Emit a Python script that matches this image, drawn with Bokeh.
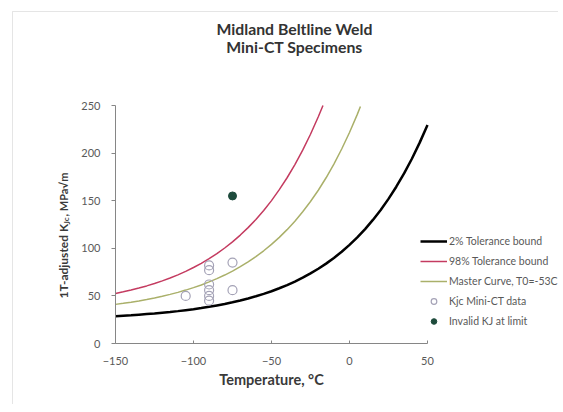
from bokeh.plotting import figure
from bokeh.models import Range1d, Label, Legend, LegendItem, FixedTicker, BoxAnnotation
from bokeh.embed import file_html
from bokeh.resources import INLINE

# ---- data ----
temps = [-150, -145, -140, -135, -130, -125, -120, -115, -110, -105, -100, -95, -90, -85,
         -80, -75, -70, -65, -60, -55, -50, -45, -40, -35, -30, -25, -20, -15, -10, -5,
         0, 5, 10, 15, 20, 25, 30, 35, 40, 45, 50]
bound_2pct = [28.7, 29.2, 29.7, 30.3, 30.9, 31.5, 32.3, 33.1, 34.0, 35.0, 36.0, 37.2, 38.5, 40.0,
              41.5, 43.3, 45.2, 47.3, 49.6, 52.1, 54.9, 58.0, 61.3, 65.0, 69.1, 73.6, 78.5, 83.9,
              89.9, 96.4, 103.6, 111.5, 120.2, 129.8, 140.3, 151.9, 164.7, 178.7, 194.1, 211.0, 229.6]

temps_98 = [-150, -145, -140, -135, -130, -125, -120, -115, -110, -105, -100, -95, -90, -85,
            -80, -75, -70, -65, -60, -55, -50, -45, -40, -35, -30, -25, -20, -17]
bound_98pct = [52.6, 54.3, 56.2, 58.3, 60.5, 63.0, 65.8, 68.8, 72.1, 75.8, 79.8, 84.2, 89.1, 94.4,
               100.3, 106.8, 113.9, 121.7, 130.3, 139.7, 150.1, 161.6, 174.1, 187.9, 203.1, 219.8,
               238.2, 250.0]

temps_mc = [-150, -145, -140, -135, -130, -125, -120, -115, -110, -105, -100, -95, -90, -85,
            -80, -75, -70, -65, -60, -55, -50, -45, -40, -35, -30, -25, -20, -15, -10, -5,
            0, 5, 7]
master_curve = [41.1, 42.2, 43.4, 44.7, 46.2, 47.8, 49.6, 51.6, 53.7, 56.1, 58.7, 61.5, 64.7, 68.1,
                71.9, 76.1, 80.7, 85.7, 91.3, 97.4, 104.1, 111.5, 119.6, 128.5, 138.4, 149.2,
                161.0, 174.1, 188.5, 204.3, 221.6, 240.7, 249.0]

kjc_temp = [-105, -90, -90, -90, -90, -90, -90, -75, -75]
kjc_value = [50, 82, 77, 62, 56, 50, 45, 85, 56]

invalid_temp = [-75]
invalid_value = [155]

x_ticks = [-150, -100, -50, 0, 50]
y_ticks = [0, 50, 100, 150, 200, 250]

series_names = ["2% Tolerance bound", "98% Tolerance bound", "Master Curve, T0=-53C",
                "Kjc Mini-CT data", "Invalid KJ at limit"]
title_lines = ["Midland Beltline Weld", "Mini-CT Specimens"]

FONT = "Lato"
GRAY = "#595959"
DARK = "#3a3a3a"

# frame covers the whole canvas; axes are pinned at T=-150 and K=0
W, H = 558, 404
px_x = 312 / 200.0     # pixels per degree
px_y = 238 / 250.0     # pixels per MPa*sqrt(m)
x0 = -150 - 115 / px_x
x1 = 50 + (W - 427) / px_x
y1 = 250 + 105 / px_y
y0 = 0 - (H - 343) / px_y

p = figure(width=W, height=H, output_backend="svg", toolbar_location=None,
           x_range=Range1d(x0, x1), y_range=Range1d(y0, y1),
           min_border=0)
p.outline_line_color = None
p.xgrid.visible = False
p.ygrid.visible = False
p.background_fill_color = "white"
p.border_fill_color = "white"

p.xaxis.fixed_location = 0
p.yaxis.fixed_location = -150
p.xaxis.bounds = (-150, 50)
p.yaxis.bounds = (0, 250)

for ax in (p.xaxis[0], p.yaxis[0]):
    ax.axis_line_color = "#868686"
    ax.major_tick_line_color = "#868686"
    ax.minor_tick_line_color = None
    ax.major_label_text_font = FONT
    ax.major_label_text_font_size = "11px"
    ax.major_label_text_color = GRAY

p.xaxis.ticker = FixedTicker(ticks=x_ticks)
p.yaxis.ticker = FixedTicker(ticks=y_ticks)
p.xaxis.major_tick_in = 3
p.xaxis.major_tick_out = 0
p.yaxis.major_tick_in = 0
p.yaxis.major_tick_out = 4
p.xaxis.major_label_standoff = 13
p.yaxis.major_label_standoff = 11

p.xaxis.axis_label = "Temperature, °C"
p.xaxis.axis_label_text_font = FONT
p.xaxis.axis_label_text_font_style = "bold"
p.xaxis.axis_label_text_font_size = "14.5px"
p.xaxis.axis_label_text_color = DARK
p.xaxis.axis_label_standoff = 3

# chart border (top and left edges visible, as in the reference screenshot)
p.add_layout(BoxAnnotation(left=x0 + 12 / px_x, right=x1 + 20, top=y1 - 11 / px_y,
                           bottom=y0 - 20, fill_alpha=0, line_color="#a8a8a8",
                           line_width=1))

r2 = p.line(temps, bound_2pct, line_color="black", line_width=2.5)
r98 = p.line(temps_98, bound_98pct, line_color="#c43b60", line_width=1.5)
rmc = p.line(temps_mc, master_curve, line_color="#aab06a", line_width=1.5)
rk = p.scatter(kjc_temp, kjc_value, marker="circle", size=9, fill_color=None,
               line_color="#a4a2b6", line_width=1.2)
ri = p.scatter(invalid_temp, invalid_value, marker="circle", size=8,
               fill_color="#1e4b3c", line_color="#1e4b3c")

legend = Legend(items=[LegendItem(label=n, renderers=[r]) for n, r in
                       zip(series_names, [r2, r98, rmc, rk, ri])],
                location=(420, 76), orientation="vertical",
                glyph_width=27, glyph_height=14, label_height=14, spacing=6,
                label_standoff=2, padding=0, margin=0,
                label_text_font=FONT, label_text_font_size="10.5px",
                label_text_color=GRAY, border_line_color=None,
                background_fill_alpha=0)
p.add_layout(legend, "center")

# title (two lines)
for txt, sy in zip(title_lines, [H - 28, H - 46]):
    p.add_layout(Label(x=294, y=sy, x_units="screen", y_units="screen", text=txt,
                       text_font=FONT, text_font_style="bold", text_font_size="15.8px",
                       text_color="#333333", text_align="center", text_baseline="middle"))

# y-axis title with subscript
p.add_layout(Label(x=63, y=106, x_units="screen", y_units="screen", text="1T-adjusted K",
                   angle=1.5708, text_font=FONT, text_font_style="bold", text_font_size="12px",
                   text_color=DARK, text_align="left", text_baseline="middle"))
p.add_layout(Label(x=66, y=180, x_units="screen", y_units="screen", text="Jc",
                   angle=1.5708, text_font=FONT, text_font_style="bold", text_font_size="8px",
                   text_color=DARK, text_align="left", text_baseline="middle"))
p.add_layout(Label(x=63, y=188, x_units="screen", y_units="screen", text=", MPa√m",
                   angle=1.5708, text_font=FONT, text_font_style="bold", text_font_size="11px",
                   text_color=DARK, text_align="left", text_baseline="middle"))

open("out.html", "w").write(file_html(p, INLINE))
